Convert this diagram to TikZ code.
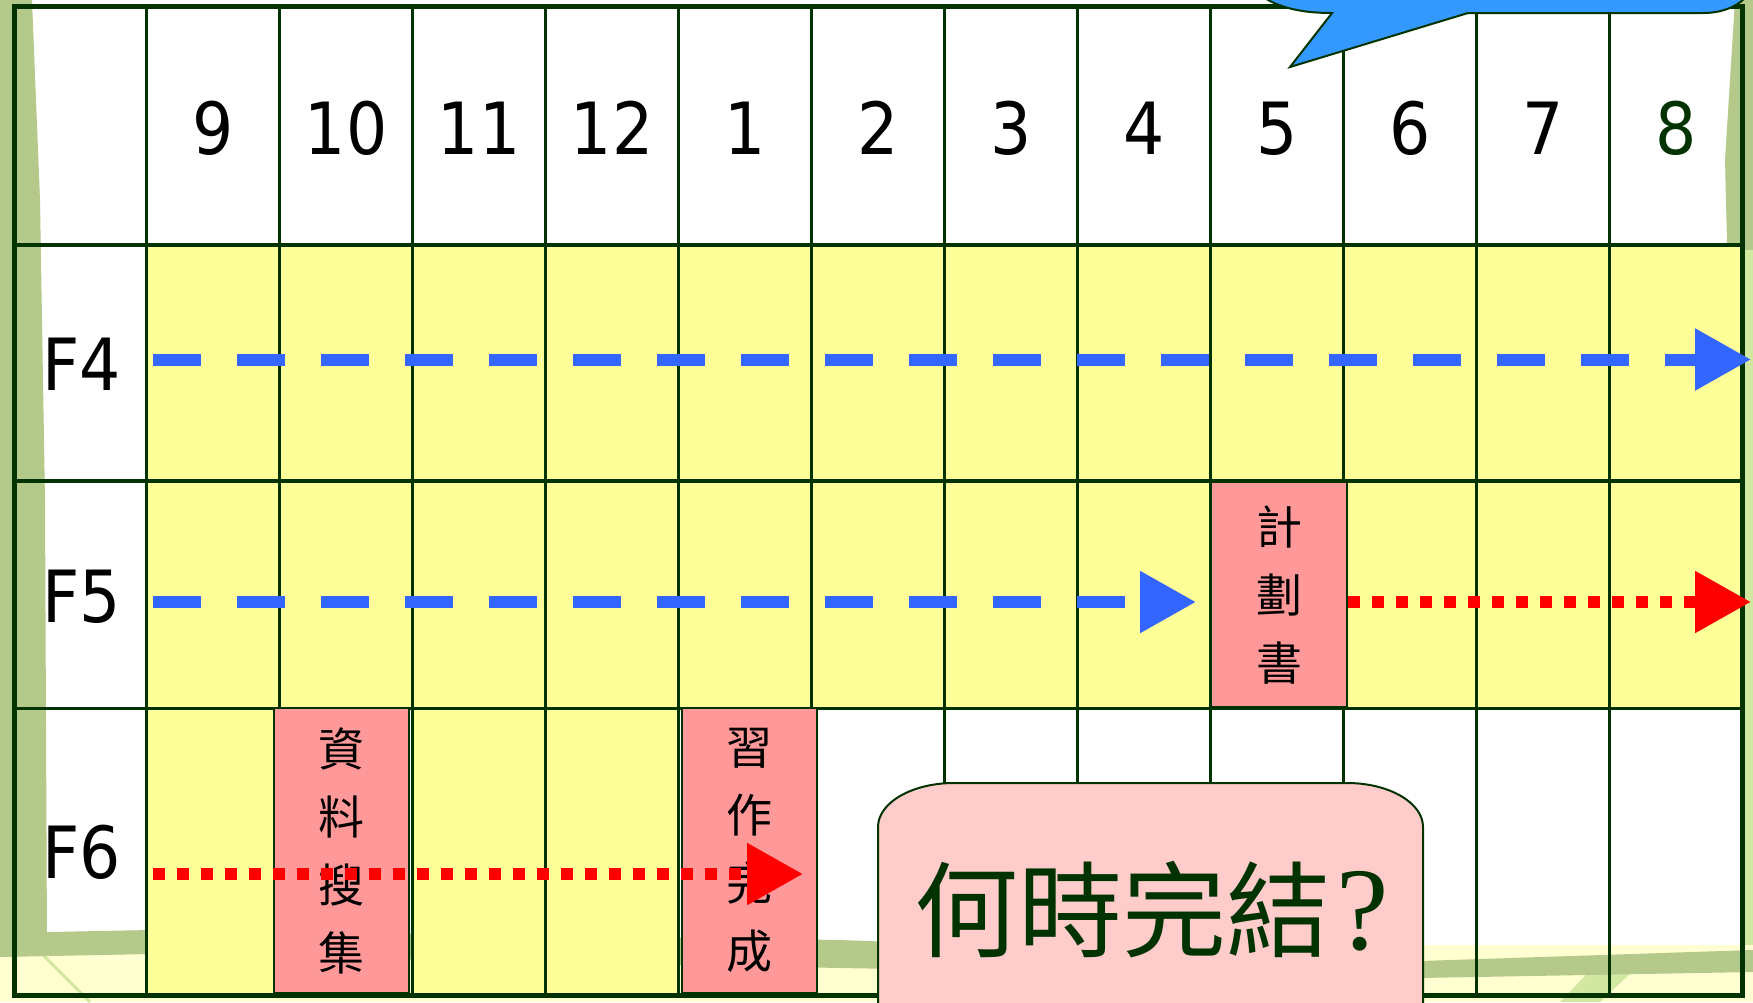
\documentclass[tikz,border=0pt]{standalone}
\usepackage{fontspec}
\usetikzlibrary{arrows.meta}
\newfontfamily\cjk{Noto Sans CJK TC}
\newfontfamily\tah[FakeStretch=0.9]{DejaVu Sans}
\newfontfamily\qserif{Liberation Serif}
\definecolor{dkg}{HTML}{003300}
\definecolor{cellyel}{HTML}{FFFF99}
\definecolor{boxpink}{HTML}{FF9999}
\definecolor{callpink}{HTML}{FFCCCC}
\definecolor{dashblue}{HTML}{3366FF}
\definecolor{callblue}{HTML}{3399FF}
\definecolor{bggreen}{HTML}{B5C98A}
\definecolor{bgltgreen}{HTML}{D2E7A0}
\definecolor{bgyel}{HTML}{FFFFD2}
\begin{document}
\begin{tikzpicture}[x=1pt,y=-1pt,
  hdr/.style={font=\tah\fontsize{72}{72}\selectfont, anchor=base, inner sep=0pt},
  rowlbl/.style={font=\tah\fontsize{72}{72}\selectfont, anchor=base west, inner sep=0pt},
  taskbox/.style={draw=dkg, line width=1.5pt, fill=boxpink, inner sep=0pt, align=center, font=\cjk\fontsize{46}{68}\selectfont},
  gridv/.style={draw=dkg, line width=2.7pt},
  gridh/.style={draw=dkg, line width=3.3pt},
  bluearrow/.style={draw=dashblue, line width=12pt, dash pattern=on 48pt off 36pt, -{Triangle[length=56pt,width=59pt]}},
  redarrow/.style={draw=red, line width=12pt, dash pattern=on 11.8pt off 12.2pt, -{Triangle[length=56pt,width=59pt]}},
]
\useasboundingbox (0,0) rectangle (1753,1002);
\clip (0,0) rectangle (1753,1002);
% background
\fill[white] (0,0) rectangle (1753,1002);
\fill[bggreen] (0,0) -- (32,0) -- (40,200) -- (45,500) -- (47,945) -- (0,945) -- cycle;
\fill[bggreen] (1735,0) -- (1753,0) -- (1753,260) -- (1744,260) -- (1727,243) -- (1725,160) -- cycle;
\fill[bgltgreen] (1744,250) rectangle (1753,1002);
\fill[bgyel] (0,945) rectangle (1753,1002);
\fill[bgltgreen] (1560,1002) -- (1600,1002) -- (1650,955) -- (1605,955) -- cycle;
\draw[bgltgreen, line width=3pt] (40,952) -- (90,1002);
\fill[bggreen] (0,933) -- (150,930) -- (840,940) -- (1420,961) -- (1753,950) -- (1753,972) -- (1420,978) -- (840,968) -- (150,954) -- (0,957) -- cycle;
% cells
\fill[cellyel] (146.7,245) rectangle (1742.5,708.5);
\fill[cellyel] (146.7,708.5) rectangle (279.7,995);
\fill[cellyel] (412.7,708.5) rectangle (678.7,995);
\foreach \i in {0,...,11} \draw[gridv] ({146.7+133*\i},6.5) -- ({146.7+133*\i},995);
\foreach \yy in {245,481,708.5} \draw[gridh] (14.5,\yy) -- (1742.5,\yy);
\draw[dkg, line width=5pt] (14.5,6.5) rectangle (1742.5,995);
% header
\foreach \t [count=\k] in {9,10,11,12,1,2,3,4,5,6,7}
  \node[hdr] (h\k) at ({146.7+133*(\k-0.5)},154) {\t};
\node[hdr, text=dkg] (h12) at ({146.7+133*11.5},154) {8};
\node[rowlbl] (r4) at (42,390) {F4};
\node[rowlbl] (r5) at (42,622) {F5};
\node[rowlbl] (r6) at (42,878) {F6};
% task boxes
\node[taskbox, minimum width=135pt, minimum height=285pt] (collect) at (341.5,850.5) {資\\料\\搜\\集};
\node[taskbox, minimum width=135pt, minimum height=285pt] (finish) at (749.5,850.5) {習\\作\\完\\成};
\node[taskbox, minimum width=136pt, minimum height=225pt] (plan) at (1279,594.5) {計\\劃\\書};
% blue callout at top
\filldraw[fill=callblue, draw=dkg, line width=2pt] (1255,-10) -- (1268,0) .. controls (1285,9) and (1305,13) .. (1332,13) -- (1290,67) -- (1468,13) -- (1703,13) .. controls (1720,13) and (1735,8) .. (1745,-2) -- (1750,-10) -- cycle;
% question callout
\filldraw[fill=callpink, draw=dkg, line width=2pt] (878,1020) -- (878,827) .. controls (878,802.7) and (912,783) .. (954,783) -- (1347,783) .. controls (1389,783) and (1423,802.7) .. (1423,827) -- (1423,1020);
\node[text=dkg, inner sep=0pt, font=\fontsize{104}{104}\selectfont] (q) at (1152,910) {{\cjk 何時完結}\kern6pt{\qserif\fontsize{118}{118}\selectfont ?}};
% arrows
\coordinate (f4s) at (153,359.5); \coordinate (f4e) at (1751,359.5);
\draw[bluearrow] (f4s) -- (f4e);
\coordinate (f5s) at (153,602); \coordinate (f5m) at (1196,602); \coordinate (f5e) at (1751,602);
\draw[bluearrow] (f5s) -- (f5m);
\draw[redarrow] (plan.east |- f5e) -- (f5e);
\coordinate (f6s) at (153,874); \coordinate (f6e) at (803,874);
\draw[redarrow] (f6s) -- (f6e);
\end{tikzpicture}
\end{document}
